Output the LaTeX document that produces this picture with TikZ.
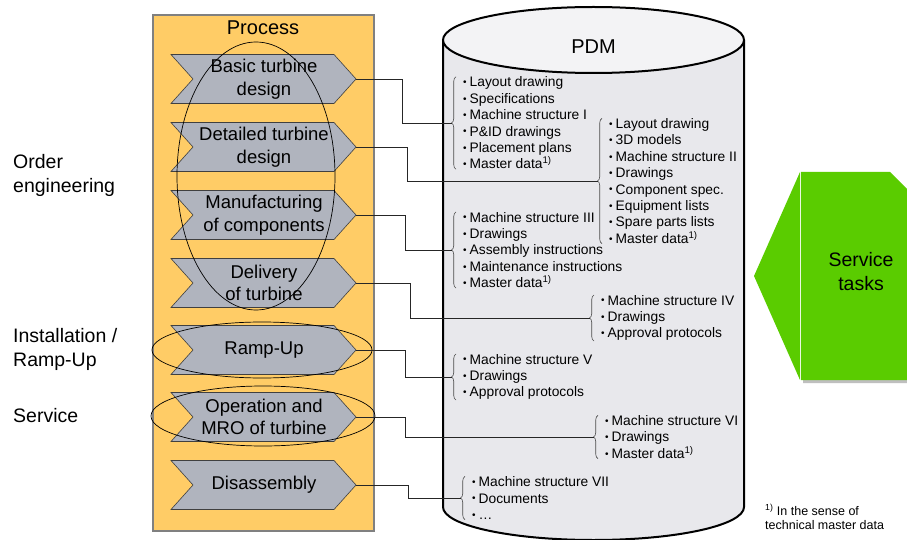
\documentclass[tikz,border=0pt]{standalone}
\usepackage{fontspec}
\setmainfont{Liberation Sans}
\usetikzlibrary{decorations.pathreplacing}

\definecolor{processcolor}{RGB}{255,204,102}
\definecolor{stepcolor}{RGB}{176,180,190}
\definecolor{pdmcolor}{RGB}{232,232,236}
\definecolor{pdmtopcolor}{RGB}{243,243,245}
\definecolor{servicecolor}{RGB}{90,204,0}

\newcommand{\itm}{{\fontsize{10}{10}\selectfont\raisebox{1.2pt}{•}}\hspace{3pt}}
\newcommand{\fn}{\textsuperscript{1)}}

\tikzset{
  stepshape/.style={fill=stepcolor, draw=black!75, line width=0.6pt},
  steptext/.style={align=center, font=\fontsize{18.5}{22.5}\selectfont, inner sep=0pt},
  phase/.style={anchor=west, align=left, font=\fontsize{19.5}{24}\selectfont, inner sep=0pt},
  datalist/.style={anchor=west, align=left, font=\fontsize{13.8}{16.4}\selectfont, inner sep=0pt},
  bracket/.style={decorate, decoration={brace, amplitude=4.5pt}, draw=black!70, line width=0.6pt},
  link/.style={draw=black!85, line width=0.7pt},
  focus/.style={draw=black, line width=0.7pt}
}

\begin{document}
\begin{tikzpicture}[x=1pt,y=-1pt]
  \useasboundingbox (0,0) rectangle (907,540);
  \clip (0,0) rectangle (907,540);
  \fill[white] (0,0) rectangle (907,540);

  % Process column
  \filldraw[fill=processcolor, draw=black!50, line width=1.2pt] (153,15) rectangle (374,531);
  \node[font=\fontsize{20}{24}\selectfont] (proc) at (263,28) {Process};

  % Process steps as chevrons
  \foreach \y/\txt [count=\i] in {79/{Basic turbine\\design}, 147/{Detailed turbine\\design},
      215/{Manufacturing\\of components}, 283/{Delivery\\of turbine}, 350/{Ramp-Up},
      417/{Operation and\\MRO of turbine}, 485/{Disassembly}} {
    \filldraw[stepshape] (171,\y-24.5) -- (334,\y-24.5) -- (356,\y) -- (334,\y+24.5)
      -- (171,\y+24.5) -- (193,\y) -- cycle;
    \node[steptext] (s\i) at (264,\y) {\txt};
    \coordinate (t\i) at (356,\y);
  }

  % Phase groupings
  \draw[focus] (256,176) ellipse (79pt and 134pt);
  \draw[focus] (262,350) ellipse (110pt and 28pt);
  \draw[focus] (263,416) ellipse (112pt and 30pt);

  % Phase labels
  \node[phase] (oe) at (13,175) {Order\\engineering};
  \node[phase] (ir) at (13,349) {Installation /\\Ramp-Up};
  \node[phase] (sv) at (13,416) {Service};

  % PDM cylinder
  \fill[pdmcolor] (443,40) -- (443,507)
    arc[start angle=180, end angle=360, x radius=150.5pt, y radius=33pt] -- (744,40) -- cycle;
  \draw[line width=2pt] (443,40) -- (443,507)
    arc[start angle=180, end angle=360, x radius=150.5pt, y radius=33pt] -- (744,40);
  \filldraw[fill=pdmtopcolor, line width=2pt] (593.5,40) ellipse (150.5pt and 33pt);
  \node[font=\fontsize{20}{24}\selectfont] (pdm) at (593.5,47) {PDM};

  % Data held in PDM
  \node[datalist] (d1) at (463,123) {\itm Layout drawing\\\itm Specifications\\\itm Machine structure I\\
    \itm P\&ID drawings\\\itm Placement plans\\\itm Master data\fn};
  \node[datalist] (d2) at (609,181) {\itm Layout drawing\\\itm 3D models\\\itm Machine structure II\\
    \itm Drawings\\\itm Component spec.\\\itm Equipment lists\\\itm Spare parts lists\\\itm Master data\fn};
  \node[datalist] (d3) at (463,250) {\itm Machine structure III\\\itm Drawings\\\itm Assembly instructions\\
    \itm Maintenance instructions\\\itm Master data\fn};
  \node[datalist] (d4) at (601,318) {\itm Machine structure IV\\\itm Drawings\\\itm Approval protocols};
  \node[datalist] (d5) at (463,377) {\itm Machine structure V\\\itm Drawings\\\itm Approval protocols};
  \node[datalist] (d6) at (605,437) {\itm Machine structure VI\\\itm Drawings\\\itm Master data\fn};
  \node[datalist] (d7) at (472,498) {\itm Machine structure VII\\\itm Documents\\\itm \dots};

  % Braces and links from steps to data
  \foreach \i/\bx in {1/402, 2/407, 3/405, 4/410, 5/405, 6/405, 7/408} {
    \draw[bracket] ([xshift=-7pt]d\i.south west) -- ([xshift=-7pt]d\i.north west);
    \coordinate (b\i) at ([xshift=-11.5pt]d\i.west);
    \draw[link] (t\i) -- ++(\bx-356,0) |- (b\i);
  }

  % Service tasks arrow
  \fill[servicecolor] (754,276) -- (800,172) -- (800,380) -- cycle;
  \fill[black!25] (803,175) -- (892,175) -- (912,195) -- (912,383) -- (803,383) -- cycle;
  \fill[servicecolor] (801,172) -- (890,172) -- (910,192) -- (910,380) -- (801,380) -- cycle;
  \node[align=center, font=\fontsize{19.5}{24}\selectfont] (st) at (861,272) {Service\\tasks};

  % Footnote
  \node[anchor=west, align=left, inner sep=0pt, font=\fontsize{12.5}{14.5}\selectfont] (fn) at (765,517)
    {\fn{} In the sense of\\technical master data};
\end{tikzpicture}
\end{document}
